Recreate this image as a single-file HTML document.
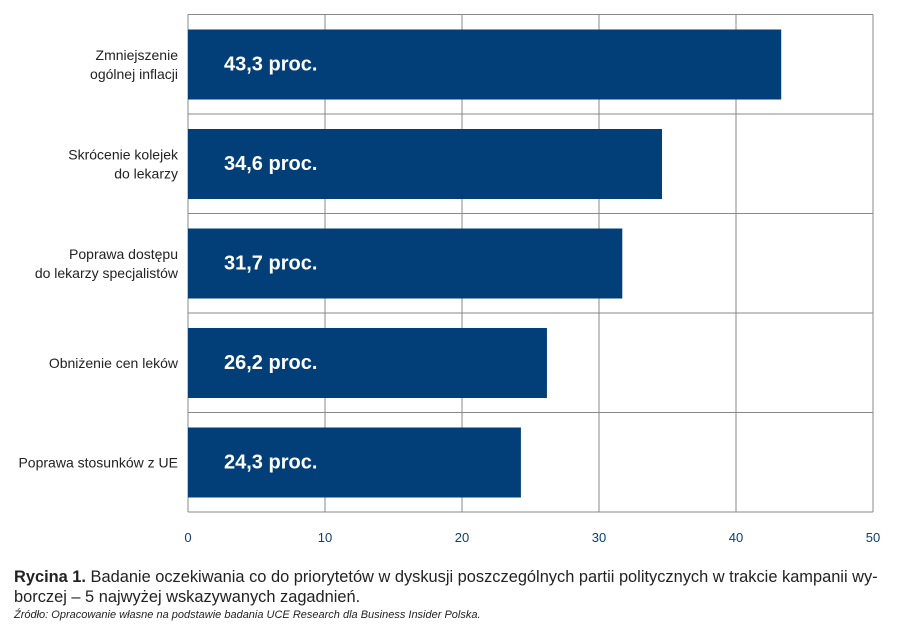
<!DOCTYPE html>
<html><head><meta charset="utf-8"><style>
body{margin:0;background:#fff;width:900px;height:637px;overflow:hidden;font-family:"Liberation Sans",sans-serif;position:relative}
svg{display:block}
.cat{font-size:14px;fill:#222}
.val{font-family:"Liberation Sans Narrow","Liberation Sans",sans-serif;font-weight:bold;font-size:20px;fill:#fff}
.tick{font-size:13px;fill:#0b3f78}
.cap{position:absolute;left:14px;top:567px;font-size:16.4px;color:#222;line-height:20px;white-space:nowrap}
.src{position:absolute;left:14px;top:609px;font-size:11px;font-style:italic;color:#222}
</style></head><body>
<svg id="chart" width="900" height="637"></svg>
<div class="cap"><b>Rycina 1.</b> Badanie oczekiwania co do priorytetów w dyskusji poszczególnych partii politycznych w trakcie kampanii wy-<br>borczej – 5 najwyżej wskazywanych zagadnień.</div>
<div class="src">Źródło: Opracowanie własne na podstawie badania UCE Research dla Business Insider Polska.</div>
<script>
const categories=[["Zmniejszenie ","ogólnej inflacji"],["Skrócenie kolejek","do lekarzy"],["Poprawa dostępu","do lekarzy specjalistów"],["Obniżenie cen leków"],["Poprawa stosunków z UE"]];
const values=[43.3,34.6,31.7,26.2,24.3];
const valueLabels=["43,3 proc.","34,6 proc.","31,7 proc.","26,2 proc.","24,3 proc."];
const ticks=[0,10,20,30,40,50];
const NS="http://www.w3.org/2000/svg";
const svgEl=document.getElementById('chart');
const x0=188,x1=873,plotTop=14.5,band=99.5;
const xs=v=>x0+(v/50)*(x1-x0);
function mk(t,a){const e=document.createElementNS(NS,t);for(const k in a)e.setAttribute(k,a[k]);svgEl.appendChild(e);return e;}
ticks.forEach((t)=>{
 const l=mk('line',{x1:xs(t),x2:xs(t),y1:plotTop,y2:plotTop+band*5,stroke:'#888','stroke-width':1});
 
 
 const tx=mk('text',{x:xs(t),y:542,'text-anchor':'middle',class:'tick'});tx.textContent=t;
 
 
});
for(let i=0;i<=5;i++){
 const l=mk('line',{x1:x0,x2:x1,y1:plotTop+band*i,y2:plotTop+band*i,stroke:'#888','stroke-width':1});
 
 
}
values.forEach((v,i)=>{
 const y=plotTop+band*i+15;
 const r=mk('rect',{x:x0,y:y,width:xs(v)-x0,height:70,fill:'#023f78'});
 
 
 const t=mk('text',{x:224,y:y+41,class:'val'});t.textContent=valueLabels[i];
 
 
 const lines=categories[i];
 const cy=y+35;
 lines.forEach((s,j)=>{
  const c=mk('text',{x:178,y:cy+5+(j-(lines.length-1)/2)*19,'text-anchor':'end',class:'cat'});c.textContent=s;
  
  
 });
});
</script>
</body></html>
